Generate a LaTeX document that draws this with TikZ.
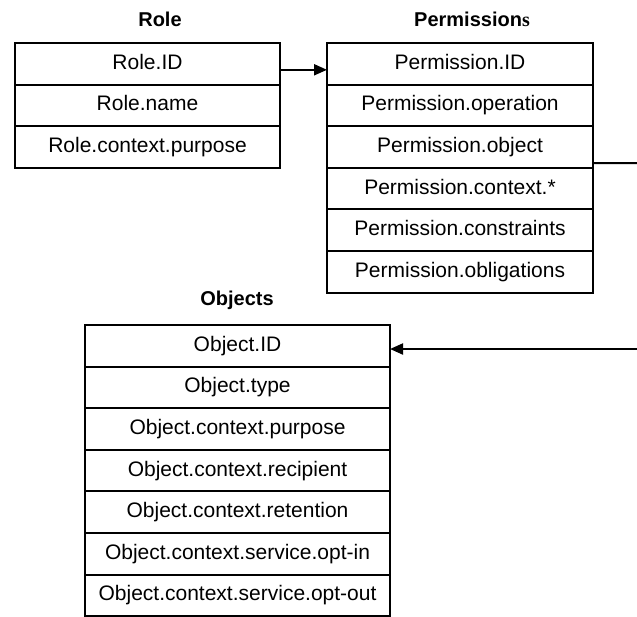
\documentclass[tikz,border=0pt]{standalone}
\usepackage{fontspec}
\setmainfont{Liberation Sans}
\newfontfamily\timesfont{Liberation Serif}
\usetikzlibrary{positioning,arrows.meta}
\tikzset{>={Triangle[length=6.5pt,width=5.5pt]}}
\tikzset{
  field/.style={draw, line width=1pt, outer sep=0pt, inner sep=0pt,
    minimum height=20.8pt, text height=7.6pt, text depth=2.2pt,
    font=\fontsize{10.5}{12}\selectfont},
  title/.style={font=\fontsize{10}{12}\selectfont\bfseries},
  link/.style={line width=1pt}
}

\begin{document}
\begin{tikzpicture}[x=0.5pt,y=-0.5pt]
\useasboundingbox (0,0) rectangle (637,616);
% Role
\node[title] (roletitle) at (160,19) {Role};
\node[field, minimum width=132.5pt, anchor=north west] (rid) at (15,43) {Role.ID};
\node[field, minimum width=132.5pt, below=0pt of rid] (rname) {Role.name};
\node[field, minimum width=132.5pt, below=0pt of rname] (rpurp) {Role.context.purpose};
% Permissions
\node[title] (permtitle) at (472,19) {Permission{\timesfont s}};
\node[field, minimum width=133pt, anchor=north west] (pid) at (327,43) {Permission.ID};
\node[field, minimum width=133pt, below=0pt of pid] (pop) {Permission.operation};
\node[field, minimum width=133pt, below=0pt of pop] (pobj) {Permission.object};
\node[field, minimum width=133pt, below=0pt of pobj] (pctx) {Permission.context.*};
\node[field, minimum width=133pt, below=0pt of pctx] (pcons) {Permission.constraints};
\node[field, minimum width=133pt, below=0pt of pcons] (pobl) {Permission.obligations};
% Objects
\node[title] (objtitle) at (237,300) {Objects};
\node[field, minimum width=152.5pt, anchor=north west] (oid) at (85,325) {Object.ID};
\node[field, minimum width=152.5pt, below=0pt of oid] (otype) {Object.type};
\node[field, minimum width=152.5pt, below=0pt of otype] (opurp) {Object.context.purpose};
\node[field, minimum width=152.5pt, below=0pt of opurp] (orecip) {Object.context.recipient};
\node[field, minimum width=152.5pt, below=0pt of orecip] (oret) {Object.context.retention};
\node[field, minimum width=152.5pt, below=0pt of oret] (oin) {Object.context.service.opt-in};
\node[field, minimum width=152.5pt, below=0pt of oin] (oout) {Object.context.service.opt-out};
% links
\coordinate (edgetop) at (637,163);
\coordinate (edgebot) at (637,349);
\draw[link,->] ([yshift=-3pt]rid.east) -- ([yshift=-3pt]pid.west);
\draw[link] ([yshift=-8pt]pobj.east) -- (edgetop);
\draw[link,->] (edgebot) -- ([yshift=-1.6pt]oid.east);
\end{tikzpicture}
\end{document}
